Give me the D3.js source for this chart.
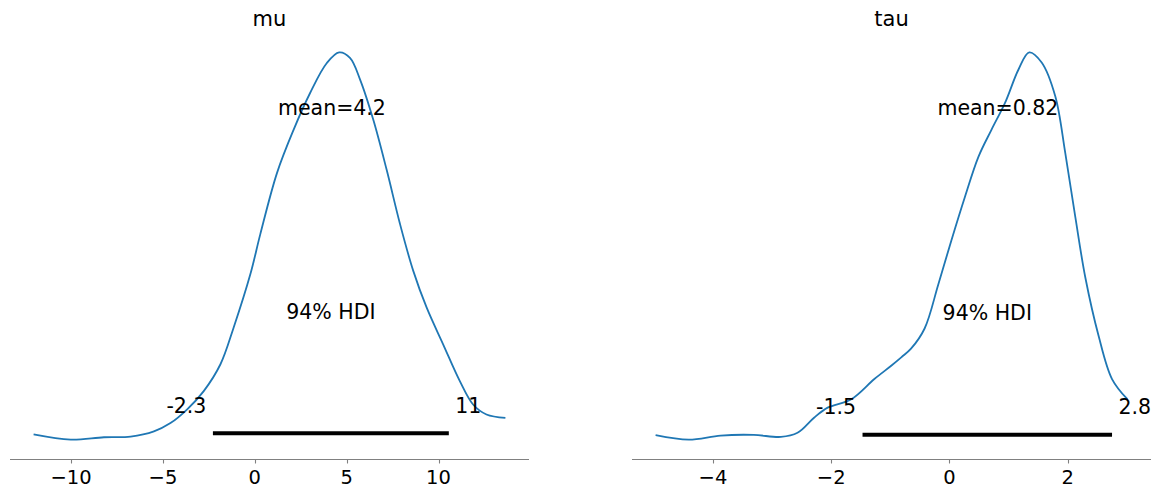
<!DOCTYPE html>
<html>
<head>
<meta charset="utf-8">
<script src="https://cdn.jsdelivr.net/npm/d3@7"></script>
<style>
  html, body { margin: 0; padding: 0; background: #fff; }
  svg { display: block; font-family: "DejaVu Sans", sans-serif; }
</style>
</head>
<body>
<svg id="chart" width="1160" height="497"></svg>
<script>
// ---- data ----
const varNames = ["mu", "tau"];

const muX = [-12.04, -10.02, -8.21, -6.76, -5.49, -4.59, -3.68, -2.78, -1.87, -1.15, -0.24, 0.30, 1.21, 2.11, 3.01, 3.92, 4.59, 5.18, 5.73, 6.45, 7.18, 7.90, 8.62, 9.35, 10.25, 11.16, 11.88, 12.61, 13.64];
const muDensity = [0.0020, 0.0005, 0.0012, 0.0014, 0.0029, 0.0053, 0.0093, 0.0146, 0.0224, 0.0331, 0.0486, 0.0602, 0.0780, 0.0905, 0.1012, 0.1099, 0.1130, 0.1114, 0.1051, 0.0934, 0.0788, 0.0632, 0.0496, 0.0389, 0.0282, 0.0175, 0.0107, 0.0078, 0.0068];

const tauX = [-4.97, -4.41, -3.87, -3.31, -2.85, -2.57, -2.29, -2.06, -1.66, -1.27, -0.98, -0.81, -0.65, -0.42, -0.19, 0.03, 0.26, 0.49, 0.71, 0.94, 1.17, 1.35, 1.56, 1.79, 1.96, 2.13, 2.30, 2.52, 2.75, 3.01];
const tauDensity = [0.0094, 0.0040, 0.0089, 0.0097, 0.0073, 0.0122, 0.0304, 0.0425, 0.0526, 0.0769, 0.0932, 0.1033, 0.1134, 0.1377, 0.1904, 0.2430, 0.2956, 0.3442, 0.3767, 0.4091, 0.4496, 0.4699, 0.4577, 0.4171, 0.3484, 0.2713, 0.1984, 0.1296, 0.0769, 0.0526];

const means = [4.2, 0.82];
const meanLabels = ["mean=4.2", "mean=0.82"];
const hdiLow = [-2.28, -1.47];
const hdiHigh = [10.56, 2.75];
const hdiLowLabels = ["-2.3", "-1.5"];
const hdiHighLabels = ["11", "2.8"];
const hdiText = "94% HDI";

const muTicks = [-10, -5, 0, 5, 10];
const tauTicks = [-4, -2, 0, 2];
const muTickLabels = ["\u221210", "\u22125", "0", "5", "10"];
const tauTickLabels = ["\u22124", "\u22122", "0", "2"];

// ---- layout ----
const svg = d3.select("#chart");
const panels = [
  { name: varNames[0], xs: muX, ys: muDensity, ticks: muTicks, tickLabels: muTickLabels, left: 10, right: 529 },
  { name: varNames[1], xs: tauX, ys: tauDensity, ticks: tauTicks, tickLabels: tauTickLabels, left: 632, right: 1151 }
];
const axTop = 33, axBottom = 459;
const curveColor = "#1f77b4";

panels.forEach((p, i) => {
  const [xmin, xmax] = d3.extent(p.xs);
  const xr = xmax - xmin;
  const x = d3.scaleLinear().domain([xmin - 0.05 * xr, xmax + 0.05 * xr]).range([p.left, p.right]);
  const [ymin, ymax] = d3.extent(p.ys);
  const yr = ymax - ymin;
  const yTop = ymax + 0.05 * yr;
  const y = d3.scaleLinear().domain([ymin - 0.05 * yr, yTop]).range([axBottom, axTop]);

  const g = svg.append("g");

  // bottom spine
  g.append("line")
    .attr("x1", p.left).attr("x2", p.right)
    .attr("y1", axBottom + 0.5).attr("y2", axBottom + 0.5)
    .attr("stroke", "#808080").attr("stroke-width", 1.1);

  // ticks
  p.ticks.forEach((t, k) => {
    const tx = Math.round(x(t)) + 0.5;
    g.append("line")
      .attr("x1", tx).attr("x2", tx)
      .attr("y1", axBottom + 1).attr("y2", axBottom + 4.5)
      .attr("stroke", "#808080").attr("stroke-width", 1.1);
    g.append("text")
      .attr("x", x(t)).attr("y", 483.5)
      .attr("text-anchor", "middle")
      .attr("font-size", "19.5px")
      .attr("fill", "#000")
      .text(p.tickLabels[k]);
  });

  // KDE curve
  const line = d3.line()
    .x((d, k) => x(p.xs[k]))
    .y(d => y(d))
    .curve(d3.curveCatmullRom.alpha(0.5));
  g.append("path")
    .datum(p.ys)
    .attr("d", line)
    .attr("fill", "none")
    .attr("stroke", curveColor)
    .attr("stroke-width", 1.8);

  // HDI bar
  g.append("line")
    .attr("x1", x(hdiLow[i])).attr("x2", x(hdiHigh[i]))
    .attr("y1", y(0.02 * yTop)).attr("y2", y(0.02 * yTop))
    .attr("stroke", "#000").attr("stroke-width", 4);

  const fs = "20.5px";
  // HDI end labels
  g.append("text")
    .attr("x", x(hdiLow[i])).attr("y", y(0.07 * yTop))
    .attr("dx", "-0.318em")
    .attr("text-anchor", "end")
    .attr("font-size", fs)
    .text(hdiLowLabels[i]);
  g.append("text")
    .attr("x", x(hdiHigh[i])).attr("y", y(0.07 * yTop))
    .attr("dx", "0.318em")
    .attr("text-anchor", "start")
    .attr("font-size", fs)
    .text(hdiHighLabels[i]);

  // HDI text
  g.append("text")
    .attr("x", (x(hdiLow[i]) + x(hdiHigh[i])) / 2).attr("y", y(0.3 * yTop))
    .attr("text-anchor", "middle")
    .attr("font-size", fs)
    .text(hdiText);

  // mean text
  g.append("text")
    .attr("x", x(means[i])).attr("y", y(0.8 * yTop))
    .attr("text-anchor", "middle")
    .attr("font-size", fs)
    .text(meanLabels[i]);

  // title
  g.append("text")
    .attr("x", (p.left + p.right) / 2).attr("y", 26)
    .attr("text-anchor", "middle")
    .attr("font-size", "21px")
    .text(p.name);
});
</script>
</body>
</html>
